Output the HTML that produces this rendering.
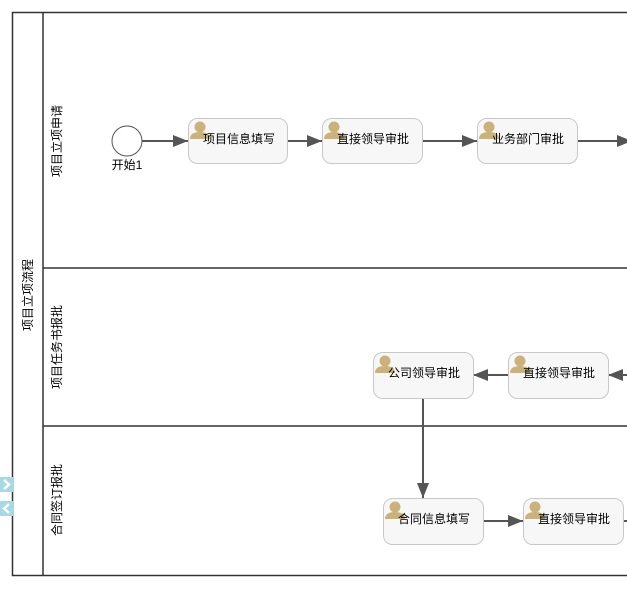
<!DOCTYPE html>
<html><head><meta charset="utf-8"><style>
html,body{margin:0;padding:0;background:#fff;width:627px;height:591px;overflow:hidden}
text{font-family:"Liberation Sans","Noto Sans CJK SC",sans-serif;font-size:12px;fill:#000}
</style></head><body>
<svg width="627" height="591" viewBox="0 0 627 591" xmlns="http://www.w3.org/2000/svg">
<defs>
<marker id="a" markerWidth="15" markerHeight="12" refX="15" refY="6" orient="auto" markerUnits="userSpaceOnUse">
<path d="M0,0 L15,6 L0,12 Z" fill="#555"/></marker>
<g id="u"><circle cx="11" cy="7" r="5.5" fill="#cbb27a"/><path d="M1,19 Q1,12 11,12 Q21,12 21,19 Z" fill="#cbb27a"/></g>
</defs>
<rect x="12.5" y="12.5" width="620" height="563" fill="none" stroke="#333" stroke-width="1.5"/>
<line x1="43" y1="12" x2="43" y2="576" stroke="#333" stroke-width="1.5"/>
<line x1="43" y1="268" x2="627" y2="268" stroke="#333" stroke-width="1.5"/>
<line x1="43" y1="426" x2="627" y2="426" stroke="#333" stroke-width="1.5"/>
<text transform="translate(32,295) rotate(-90)" text-anchor="middle">项目立项流程</text>
<text transform="translate(61,141) rotate(-90)" text-anchor="middle">项目立项申请</text>
<text transform="translate(61,347) rotate(-90)" text-anchor="middle">项目任务书报批</text>
<text transform="translate(61,500) rotate(-90)" text-anchor="middle">合同签订报批</text>
<rect x="0" y="477" width="14" height="15" fill="#a8d8e4"/>
<path d="M4,480 L9,484.5 L4,489" stroke="#fff" stroke-width="2.5" fill="none"/>
<rect x="0" y="501" width="14" height="15" fill="#a8d8e4"/>
<path d="M9,504 L4,508.5 L9,513" stroke="#fff" stroke-width="2.5" fill="none"/>
<circle cx="127" cy="141" r="15" fill="#fff" stroke="#555" stroke-width="1"/>
<text x="127" y="169" text-anchor="middle" font-size="11">开始1</text>
<g stroke="#555" stroke-width="2" fill="none">
<line x1="142" y1="141" x2="188" y2="141" marker-end="url(#a)"/>
<line x1="287" y1="141" x2="322" y2="141" marker-end="url(#a)"/>
<line x1="422" y1="141" x2="477" y2="141" marker-end="url(#a)"/>
<line x1="577" y1="141" x2="632" y2="141" marker-end="url(#a)"/>
<line x1="630" y1="375" x2="608" y2="375" marker-end="url(#a)"/>
<line x1="508" y1="375" x2="473" y2="375" marker-end="url(#a)"/>
<line x1="423" y1="398" x2="423" y2="498" marker-end="url(#a)"/>
<line x1="483" y1="521" x2="523" y2="521" marker-end="url(#a)"/>
<line x1="623" y1="521" x2="627" y2="521"/>
</g>
<g stroke="#c8c8c8" stroke-width="1" fill="#f7f7f7">
<rect x="188.5" y="118.5" width="99" height="45" rx="9"/>
<rect x="322.5" y="118.5" width="100" height="45" rx="9"/>
<rect x="477.5" y="118.5" width="100" height="45" rx="9"/>
<rect x="373.5" y="352.5" width="100" height="46" rx="9"/>
<rect x="508.5" y="352.5" width="100" height="46" rx="9"/>
<rect x="383.5" y="498.5" width="100" height="46" rx="9"/>
<rect x="523.5" y="498.5" width="100" height="46" rx="9"/>
</g>
<use href="#u" x="189" y="120"/><use href="#u" x="323" y="120"/><use href="#u" x="478" y="120"/>
<use href="#u" x="374" y="354"/><use href="#u" x="509" y="354"/>
<use href="#u" x="384" y="500"/><use href="#u" x="524" y="500"/>
<g text-anchor="middle">
<text x="239" y="143">项目信息填写</text>
<text x="373" y="143">直接领导审批</text>
<text x="528" y="143">业务部门审批</text>
<text x="424" y="377">公司领导审批</text>
<text x="559" y="377">直接领导审批</text>
<text x="434" y="523">合同信息填写</text>
<text x="574" y="523">直接领导审批</text>
</g>
</svg>
</body></html>
